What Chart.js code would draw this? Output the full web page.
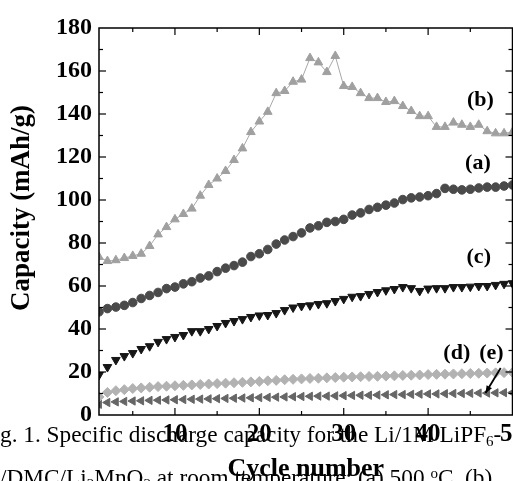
<!DOCTYPE html>
<html>
<head>
<meta charset="utf-8">
<script src="https://cdn.jsdelivr.net/npm/chart.js@4.4.1/dist/chart.umd.min.js"></script>
<style>
html,body{margin:0;padding:0;background:#fff;overflow:hidden;width:513px;height:481px;position:relative;}
#wrap{position:absolute;left:0;top:0;width:530px;height:481px;}
.cap{position:absolute;left:0;font-family:"Liberation Serif","Times New Roman",serif;font-size:23.3px;color:#000;white-space:nowrap;line-height:23px;}
.cap sub{font-size:15px;line-height:0;vertical-align:-4px;}
.cap sup{font-size:15px;line-height:0;vertical-align:7px;}
</style>
</head>
<body>
<div id="wrap"><canvas id="chart"></canvas></div>
<div class="cap" style="top:423px;">g. 1. Specific discharge capacity for the Li/1M LiPF<sub>6</sub>-</div>
<div class="cap" style="top:466px;">/DMC/Li<sub>2</sub>MnO<sub>2</sub> at room temperature: (a) 500 <sup>o</sup>C, (b)</div>
<script>
// ---- data ----
const cycles = [1,2,3,4,5,6,7,8,9,10,11,12,13,14,15,16,17,18,19,20,21,22,23,24,25,26,27,28,29,30,31,32,33,34,35,36,37,38,39,40,41,42,43,44,45,46,47,48,49,50];
const capA = [48,49.5,50.2,51,52.3,54.2,55.6,57,58.8,59.5,61,62,63.7,64.7,66.7,68.3,69.5,71.1,73.7,75,77,79.5,81.4,83,84.7,87,88,89.6,90,91,93,94,95.6,96.6,97.6,98.6,100.2,101,101.4,102,103,105.4,105,104.7,105,105.6,106,106,106.5,107];
const capB = [73.5,71.6,72,73,74,75,78.6,84,87.4,91,93.5,96,102,107,110,113.5,118.6,124,131.6,136.5,141,149.7,150.7,155,156,166,164,159.5,167,153,152.6,149.7,147.4,147.4,145.6,146,143.7,141.4,139,139,134,134,136,135,134,135,132,131,131,131.6];
const capC = [18.6,22.3,25.6,27.4,28.8,30.7,32,34,35.3,36.3,37.2,39,39,40,41.4,42.8,43.7,44.6,45.6,46.3,46.5,47.4,48.8,50,50.7,51,51.6,52,53,54,55,55.3,56.3,57.2,58,58.6,59.5,59,57.7,58.8,59,59,59.5,59.5,59.7,60,60,60.5,61,61.3];
const capD = [8.4,10.5,11.3,11.8,12.3,12.6,12.9,13.2,13.4,13.6,13.8,14,14.2,14.4,14.6,14.8,15,15.2,15.4,15.6,15.9,16.1,16.4,16.6,16.8,17,17.1,17.3,17.4,17.6,17.7,17.8,17.9,18,18.1,18.2,18.4,18.5,18.6,18.8,18.9,19,19.1,19.2,19.3,19.4,19.5,19.6,19.7,19.8];
const capE = [5,5.8,6.1,6.3,6.5,6.6,6.8,6.9,7,7.1,7.2,7.3,7.4,7.5,7.6,7.7,7.8,7.9,8,8.1,8.2,8.3,8.4,8.5,8.6,8.7,8.8,8.8,8.9,9,9.1,9.2,9.2,9.3,9.4,9.5,9.5,9.6,9.7,9.8,9.8,9.9,10,10,10.1,10.2,10.2,10.3,10.4,10.4];
const xTickValues = [10,20,30,40,50];
const yTickValues = [0,20,40,60,80,100,120,140,160,180];
const seriesNames = ['(a)','(b)','(c)','(d)','(e)'];

// ---- annotation placement (data units) ----
const notes = [
  {text:'(b)', x:46.2, y:146.5},
  {text:'(a)', x:45.9, y:117},
  {text:'(c)', x:46.0, y:73.5},
  {text:'(d)', x:43.4, y:28.8},
  {text:'(e)', x:47.5, y:28.8}
];
const arrow = {x1:48.6, y1:21.9, x2:46.8, y2:10.2};

const SERIF = '"Liberation Serif","Times New Roman",serif';

const framePlugin = {
  id:'frame',
  afterDraw(chart){
    const {ctx, chartArea:{left,right,top,bottom}, scales:{x,y}} = chart;
    ctx.save();
    ctx.strokeStyle = '#000';
    ctx.lineWidth = 1.5;
    ctx.strokeRect(left, top, right-left, bottom-top);
    ctx.lineWidth = 1.2;
    const seg = (a,b,c,d)=>{ctx.beginPath();ctx.moveTo(a,b);ctx.lineTo(c,d);ctx.stroke();};
    for (let v = 5; v <= 50; v += 5) {
      const px = x.getPixelForValue(v);
      if (px <= left + 1 || px >= right - 1) continue;
      const len = v % 10 === 0 ? 7 : 4;
      seg(px, bottom, px, bottom - len);
      seg(px, top, px, top + len);
    }
    for (let v = 10; v < 180; v += 10) {
      const py = y.getPixelForValue(v);
      const len = v % 20 === 0 ? 7 : 4;
      seg(left, py, left + len, py);
      seg(right, py, right - len, py);
    }
    // annotations
    ctx.fillStyle = '#000';
    ctx.font = 'bold 22px ' + SERIF;
    ctx.textAlign = 'center';
    ctx.textBaseline = 'middle';
    notes.forEach(n => ctx.fillText(n.text, x.getPixelForValue(n.x), y.getPixelForValue(n.y)));
    const ax1 = x.getPixelForValue(arrow.x1), ay1 = y.getPixelForValue(arrow.y1);
    const ax2 = x.getPixelForValue(arrow.x2), ay2 = y.getPixelForValue(arrow.y2);
    ctx.lineWidth = 1.8;
    seg(ax1, ay1, ax2, ay2);
    const ang = Math.atan2(ay2-ay1, ax2-ax1);
    ctx.beginPath();
    ctx.moveTo(ax2, ay2);
    ctx.lineTo(ax2 - 8*Math.cos(ang-0.4), ay2 - 8*Math.sin(ang-0.4));
    ctx.lineTo(ax2 - 8*Math.cos(ang+0.4), ay2 - 8*Math.sin(ang+0.4));
    ctx.closePath();
    ctx.fill();
    ctx.restore();
  }
};

function pts(arr){ return cycles.map((c,i)=>({x:c, y:arr[i]})); }

const ds = (label, data, style, color, radius, rot, line) => ({
  label, data: pts(data), pointStyle: style, pointRotation: rot || 0,
  pointRadius: radius, pointBackgroundColor: color, pointBorderColor: color,
  pointBorderWidth: 1, borderColor: line ? '#a8a8a8' : color, borderWidth: line ? 1 : 0,
  showLine: !!line, clip: 0
});

new Chart(document.getElementById('chart'), {
  type: 'scatter',
  data: {
    datasets: [
      ds(seriesNames[1], capB, 'triangle', '#a0a0a0', 5, 0, true),
      ds(seriesNames[0], capA, 'circle', '#4a4a4a', 4.3, 0, false),
      ds(seriesNames[2], capC, 'triangle', '#161616', 5, 180, false),
      ds(seriesNames[3], capD, 'rectRot', '#b2b2b2', 5, 0, false),
      ds(seriesNames[4], capE, 'triangle', '#666666', 4.8, -90, false)
    ]
  },
  options: {
    responsive: true,
    maintainAspectRatio: false,
    animation: false,
    events: [],
    layout: { padding: { top: 28, right: 15.3, left: 0, bottom: 0 } },
    plugins: { legend: { display: false }, tooltip: { enabled: false } },
    scales: {
      x: {
        type: 'linear', min: 1, max: 50,
        afterBuildTicks: s => { s.ticks = xTickValues.map(v => ({value: v})); },
        afterFit: s => { s.height = 66; },
        grid: { display: false, drawTicks: false },
        border: { display: false },
        ticks: { padding: 5, color: '#000', maxRotation: 0, autoSkip: false,
                 font: { family: SERIF, size: 25, weight: 'bold' } },
        title: { display: true, text: 'Cycle number', color: '#000',
                 font: { family: SERIF, size: 26, weight: 'bold', lineHeight: 1 },
                 padding: { top: 0, bottom: -1 } }
      },
      y: {
        type: 'linear', min: 0, max: 180,
        afterBuildTicks: s => { s.ticks = yTickValues.map(v => ({value: v})); },
        afterFit: s => { s.width = 99; },
        grid: { display: false, drawTicks: false },
        border: { display: false },
        ticks: { padding: 7, color: '#000', autoSkip: false,
                 font: { family: SERIF, size: 24, weight: 'bold' } },
        title: { display: true, text: '    Capacity (mAh/g)', color: '#000',
                 font: { family: SERIF, size: 27, weight: 'bold', lineHeight: 1 },
                 padding: { top: 9, bottom: 0 } }
      }
    }
  },
  plugins: [framePlugin]
});
</script>
</body>
</html>
